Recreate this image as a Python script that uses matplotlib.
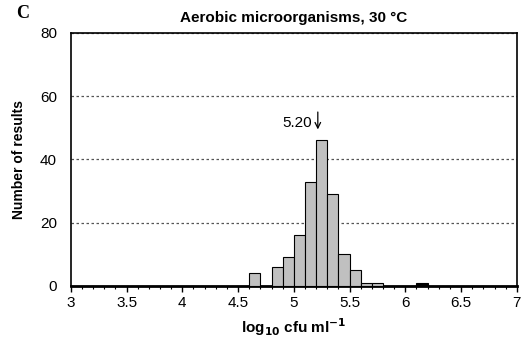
import matplotlib
matplotlib.use("Agg")
import matplotlib.pyplot as plt
import numpy as np

plt.rcParams['font.family'] = ['Liberation Sans', 'DejaVu Sans']

# bin left edges (log10 cfu/ml) and counts
bin_left = [4.6, 4.8, 4.9, 5.0, 5.1, 5.2, 5.3, 5.4, 5.5, 5.6, 5.7, 6.1]
counts = [4, 6, 9, 16, 33, 46, 29, 10, 5, 1, 1, 1]
colors = ['#c0c0c0'] * 11 + ['black']
median = 5.20

fig = plt.figure(figsize=(5.21, 3.4), dpi=100)
ax = fig.add_axes([0.136, 0.159, 0.856, 0.744])

ax.bar(bin_left, counts, width=0.1, align='edge', color=colors,
       edgecolor='black', linewidth=0.8, zorder=3)

ax.set_xlim(3, 7)
ax.set_ylim(0, 80)
ax.set_xticks(np.arange(3, 7.01, 0.5))
ax.set_xticklabels(['3', '3.5', '4', '4.5', '5', '5.5', '6', '6.5', '7'])
ax.set_xticks(np.arange(3, 7.01, 0.1), minor=True)
ax.set_yticks([0, 20, 40, 60, 80])
ax.tick_params(axis='x', which='major', direction='out', length=4, width=1, labelsize=11)
ax.tick_params(axis='x', which='minor', direction='out', length=2.5, width=0.8)
ax.tick_params(axis='y', length=0, labelsize=11, pad=10)
ax.yaxis.grid(True, linestyle=(0, (2, 2)), color='#555555', linewidth=0.9, zorder=0)
for s in ax.spines.values():
    s.set_linewidth(1.2)
ax.spines['bottom'].set_linewidth(2)

ax.text(median - 0.04, 51.5, '%.2f' % median, ha='right', va='center', fontsize=11)
ax.annotate('', xy=(median + 0.015, 49.5), xytext=(median + 0.015, 55),
            arrowprops=dict(arrowstyle='->', lw=0.9, color='black',
                            shrinkA=0, shrinkB=0))

ax.set_title('Aerobic microorganisms, 30 \u00b0C', fontsize=11, fontweight='bold', pad=8)
ax.set_xlabel('log$_{\\mathbf{10}}$ cfu ml$^{\\mathbf{-1}}$', fontsize=11, fontweight='bold')
ax.set_ylabel('Number of results', fontsize=10, fontweight='bold', labelpad=10)
fig.text(0.03, 0.96, 'C', fontsize=13, fontweight='bold', family='Liberation Serif', va='center')

fig.savefig('out.png', dpi=100)
